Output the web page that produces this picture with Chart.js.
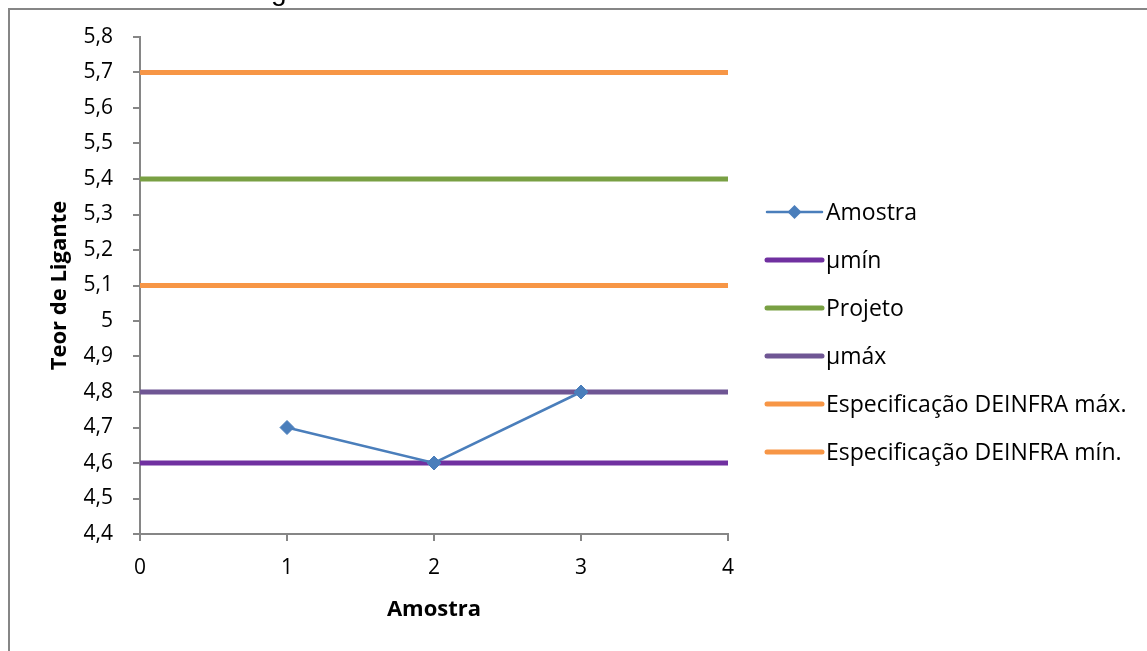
<!DOCTYPE html>
<html lang="pt">
<head>
<meta charset="utf-8">
<title>Teor de Ligante</title>
<script src="https://cdn.jsdelivr.net/npm/chart.js@4"></script>
<style>
  html, body { margin: 0; padding: 0; background: #fff; overflow: hidden; }
  #wrap { position: relative; width: 1147px; height: 651px; overflow: hidden; background: #fff; }
  #titulo { position: absolute; left: 10px; top: -23px; z-index: 2; font: 28px "Liberation Sans", Arial, sans-serif; line-height: 28px; color: #000; white-space: nowrap; }
  canvas { position: absolute; left: 0; top: 0; z-index: 1; }
</style>
</head>
<body>
<div id="wrap">
  <div id="titulo">Gráfico 1 - Teor de Ligante</div>
  <canvas id="grafico" width="1147" height="651"></canvas>
</div>
<script>
// Amostras ensaiadas
const amostras = [1, 2, 3];
const teorAmostra = [4.7, 4.6, 4.8];

// Limites de referência (linhas horizontais de 0 a 4)
const faixaX = [0, 4];
const muMin = 4.6;
const projeto = 5.4;
const muMax = 4.8;
const deinfraMax = 5.7;
const deinfraMin = 5.1;

// Eixos
const xTicks = [0, 1, 2, 3, 4];
const yTicks = [4.4, 4.5, 4.6, 4.7, 4.8, 4.9, 5.0, 5.1, 5.2, 5.3, 5.4, 5.5, 5.6, 5.7, 5.8];

const linha = (v) => faixaX.map(x => ({ x: x, y: v }));

const FONTE = '"Open Sans", "DejaVu Sans", sans-serif';
const CINZA = '#868686';

// Moldura externa do gráfico
const moldura = {
  id: 'moldura',
  beforeDraw(chart) {
    const ctx = chart.ctx;
    ctx.save();
    ctx.strokeStyle = CINZA;
    ctx.lineWidth = 2;
    ctx.beginPath();
    ctx.moveTo(chart.width, 9);
    ctx.lineTo(9, 9);
    ctx.lineTo(9, chart.height);
    ctx.stroke();
    ctx.restore();
  }
};

// Legenda à direita, uma linha por série
const legenda = {
  id: 'legenda',
  afterDraw(chart, args, opts) {
    const ctx = chart.ctx;
    ctx.save();
    chart.data.datasets.forEach((ds, i) => {
      const y = opts.top + i * opts.step;
      ctx.strokeStyle = ds.borderColor;
      ctx.lineWidth = ds.legendWidth;
      ctx.lineCap = 'round';
      ctx.beginPath();
      ctx.moveTo(opts.x0, y);
      ctx.lineTo(opts.x1, y);
      ctx.stroke();
      if (ds.pointRadius > 0) {
        const cx = (opts.x0 + opts.x1) / 2, r = 7;
        ctx.fillStyle = ds.pointBackgroundColor;
        ctx.beginPath();
        ctx.moveTo(cx, y - r);
        ctx.lineTo(cx + r, y);
        ctx.lineTo(cx, y + r);
        ctx.lineTo(cx - r, y);
        ctx.closePath();
        ctx.fill();
      }
      ctx.fillStyle = '#000';
      ctx.font = opts.font;
      ctx.textBaseline = 'middle';
      ctx.textAlign = 'left';
      ctx.fillText(ds.label, opts.x1 + 4, y + 1);
    });
    ctx.restore();
  }
};

const serieFixa = (label, valor, cor) => ({
  label: label,
  data: linha(valor),
  borderColor: cor,
  backgroundColor: cor,
  borderWidth: 5,
  legendWidth: 5,
  pointRadius: 0,
  pointHoverRadius: 0,
  showLine: true,
  order: 2
});

new Chart(document.getElementById('grafico'), {
  type: 'scatter',
  data: {
    datasets: [
      {
        label: 'Amostra',
        data: amostras.map((x, i) => ({ x: x, y: teorAmostra[i] })),
        borderColor: '#4A7EBB',
        backgroundColor: '#4A7EBB',
        pointBackgroundColor: '#4A7EBB',
        pointBorderColor: '#4A7EBB',
        pointStyle: 'rectRot',
        pointRadius: 7,
        pointBorderWidth: 1,
        borderWidth: 2.5,
        legendWidth: 2.5,
        showLine: true,
        tension: 0,
        order: 1
      },
      serieFixa('µmín', muMin, '#7030A0'),
      serieFixa('Projeto', projeto, '#79A043'),
      serieFixa('µmáx', muMax, '#6F5694'),
      serieFixa('Especificação DEINFRA máx.', deinfraMax, '#F79646'),
      serieFixa('Especificação DEINFRA mín.', deinfraMin, '#F79646')
    ]
  },
  options: {
    responsive: false,
    animation: false,
    events: [],
    layout: { padding: { left: 0, top: 37, right: 419, bottom: 0 } },
    plugins: {
      legend: { display: false },
      tooltip: { enabled: false },
      legenda: { x0: 767, x1: 822, top: 212, step: 48, font: '23px ' + FONTE }
    },
    scales: {
      x: {
        type: 'linear',
        min: 0,
        max: 4,
        afterBuildTicks: (s) => { s.ticks = xTicks.map(v => ({ value: v })); },
        afterFit: (s) => { s.height = 117; },
        grid: { drawOnChartArea: false, drawTicks: true, tickLength: 7, color: CINZA, lineWidth: 2 },
        border: { color: CINZA, width: 2 },
        ticks: { color: '#000', font: { family: FONTE, size: 21 }, padding: 14 },
        title: { display: true, text: 'Amostra', color: '#000', font: { family: FONTE, size: 22, weight: 'bold' }, padding: { top: 0, bottom: 28 } }
      },
      y: {
        type: 'linear',
        min: 4.4,
        max: 5.8,
        afterBuildTicks: (s) => { s.ticks = yTicks.map(v => ({ value: v })); },
        afterFit: (s) => { s.width = 140; },
        grid: { drawOnChartArea: false, drawTicks: true, tickLength: 7, color: CINZA, lineWidth: 2 },
        border: { color: CINZA, width: 2 },
        ticks: {
          color: '#000',
          font: { family: FONTE, size: 21 },
          padding: 20,
          callback: (v) => String(Number(v.toFixed(1))).replace('.', ',')
        },
        title: { display: true, text: 'Teor de Ligante', color: '#000', font: { family: FONTE, size: 22, weight: 'bold' }, padding: { top: 47, bottom: 0 } }
      }
    }
  },
  plugins: [moldura, legenda]
});
</script>
</body>
</html>
